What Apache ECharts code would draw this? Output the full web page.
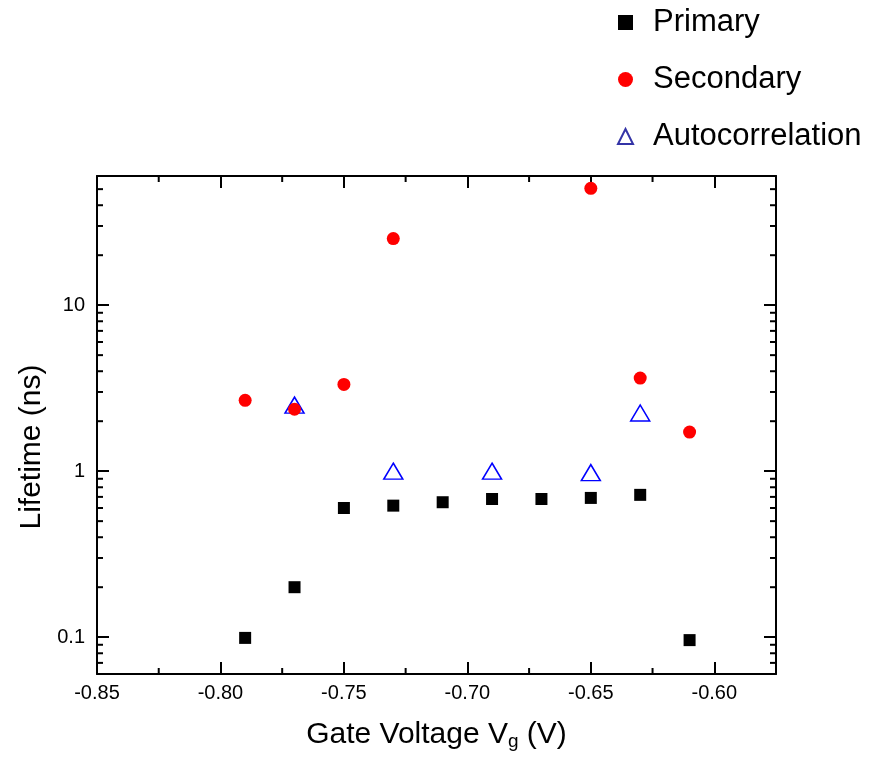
<!DOCTYPE html>
<html>
<head>
<meta charset="utf-8">
<script src="https://cdn.jsdelivr.net/npm/echarts@6/dist/echarts.min.js"></script>
<style>
  html, body { margin: 0; padding: 0; background: #fff; }
  #chart { width: 888px; height: 758px; }
</style>
</head>
<body>
<div id="chart"></div>
<script>
// Lifetimes (ns) against gate voltage (V)
const primaryVoltage = [-0.79, -0.77, -0.75, -0.73, -0.71, -0.69, -0.67, -0.65, -0.63, -0.61];
const primaryLifetime = [0.099, 0.20, 0.60, 0.62, 0.65, 0.68, 0.68, 0.69, 0.72, 0.096];

const secondaryVoltage = [-0.79, -0.77, -0.75, -0.73, -0.65, -0.63, -0.61];
const secondaryLifetime = [2.67, 2.36, 3.33, 25.2, 50.6, 3.64, 1.72];

const autoVoltage = [-0.77, -0.73, -0.69, -0.65, -0.63];
const autoLifetime = [2.5, 1.0, 1.0, 0.98, 2.24];

// Axis ranges and minor tick positions
const xRange = [-0.85, -0.575];
const yRange = [0.06, 60];
const xMinorTicks = [-0.825, -0.775, -0.725, -0.675, -0.625];
const yMinorTicks = [0.07, 0.08, 0.09,
  0.2, 0.3, 0.4, 0.5, 0.6, 0.7, 0.8, 0.9,
  2, 3, 4, 5, 6, 7, 8, 9,
  20, 30, 40, 50];

const FONT = '"Liberation Sans", Arial, sans-serif';
const pair = (xs, ys) => xs.map((x, i) => [x, ys[i]]);

const chart = echarts.init(document.getElementById('chart'), null, { renderer: 'canvas' });

const axisLineStyle = { color: '#000', width: 2 };
const majorTick = { show: true, inside: true, length: 12, lineStyle: { color: '#000', width: 2 } };
const MINOR_LEN = 6;

function minorLine(x1, y1, x2, y2) {
  return { type: 'line', shape: { x1, y1, x2, y2 }, style: { stroke: '#000', lineWidth: 2 } };
}

const option = {
  animation: false,
  backgroundColor: '#fff',
  textStyle: { fontFamily: FONT },
  grid: { left: 97, right: 112, top: 176, bottom: 84, containLabel: false, outerBoundsMode: 'none' },
  legend: {
    orient: 'vertical',
    left: 612,
    top: 2,
    itemWidth: 15,
    itemHeight: 15,
    itemGap: 26,
    textStyle: { fontFamily: FONT, fontSize: 31, color: '#000', lineHeight: 31, padding: [0, 0, 0, 15] },
    data: [
      { name: 'Primary' },
      { name: 'Secondary' },
      { name: 'Autocorrelation', itemStyle: { borderColor: '#3333a6', borderWidth: 2, color: 'rgba(0,0,0,0)' } }
    ]
  },
  xAxis: [
    {
      type: 'value',
      position: 'bottom',
      min: xRange[0],
      max: xRange[1],
      interval: 0.05,
      axisLine: { show: true, onZero: false, lineStyle: axisLineStyle },
      axisTick: majorTick,
      axisLabel: {
        color: '#000', fontSize: 20, fontFamily: FONT, margin: 9,
        showMaxLabel: false,
        formatter: v => v.toFixed(2)
      },
      splitLine: { show: false },
      name: 'Gate Voltage V{sub|g} (V)',
      nameLocation: 'middle',
      nameGap: 45,
      nameMoveOverlap: false,
      nameTextStyle: {
        color: '#000', fontSize: 30, fontFamily: FONT, lineHeight: 32,
        rich: {
          sub: { fontSize: 19, fontFamily: FONT, color: '#000', lineHeight: 20, padding: [46, 0, 0, 0], verticalAlign: 'bottom' }
        }
      }
    },
    {
      type: 'value',
      position: 'top',
      min: xRange[0],
      max: xRange[1],
      interval: 0.05,
      axisLine: { show: true, onZero: false, lineStyle: axisLineStyle },
      axisTick: majorTick,
      axisLabel: { show: false },
      splitLine: { show: false }
    }
  ],
  yAxis: [
    {
      type: 'log',
      logBase: 10,
      position: 'left',
      min: yRange[0],
      max: yRange[1],
      axisLine: { show: true, onZero: false, lineStyle: axisLineStyle },
      axisTick: majorTick,
      axisLabel: {
        color: '#000', fontSize: 20, fontFamily: FONT, margin: 12,
        showMinLabel: false, showMaxLabel: false,
        formatter: v => String(+Number(v).toPrecision(3))
      },
      splitLine: { show: false },
      name: 'Lifetime (ns)',
      nameLocation: 'middle',
      nameRotate: 90,
      nameGap: 50,
      nameTextStyle: { color: '#000', fontSize: 30, fontFamily: FONT, padding: [0, 44, 0, 0] }
    },
    {
      type: 'log',
      logBase: 10,
      position: 'right',
      min: yRange[0],
      max: yRange[1],
      axisLine: { show: true, onZero: false, lineStyle: axisLineStyle },
      axisTick: majorTick,
      axisLabel: { show: false },
      splitLine: { show: false }
    }
  ],
  series: [
    {
      name: 'Primary',
      type: 'scatter',
      symbol: 'rect',
      symbolSize: 12,
      itemStyle: { color: '#000', opacity: 1 },
      z: 3,
      data: pair(primaryVoltage, primaryLifetime)
    },
    {
      name: 'Autocorrelation',
      type: 'scatter',
      symbol: 'triangle',
      symbolSize: [19, 16],
      itemStyle: { color: 'rgba(0,0,0,0)', borderColor: '#0000ff', borderWidth: 1.5, opacity: 1 },
      z: 3,
      data: pair(autoVoltage, autoLifetime)
    },
    {
      name: 'Secondary',
      type: 'scatter',
      symbol: 'circle',
      symbolSize: 13,
      itemStyle: { color: '#ff0000', opacity: 1 },
      z: 4,
      data: pair(secondaryVoltage, secondaryLifetime)
    },
    {
      // minor ticks on the left and right frame edges (log decades)
      name: 'yMinor',
      type: 'custom',
      silent: true,
      z: 5,
      data: yMinorTicks.map(v => [xRange[0], v]),
      renderItem: (params, api) => {
        const v = api.value(1);
        const l = api.coord([xRange[0], v]);
        const r = api.coord([xRange[1], v]);
        return {
          type: 'group',
          children: [
            minorLine(l[0], l[1], l[0] + MINOR_LEN, l[1]),
            minorLine(r[0], r[1], r[0] - MINOR_LEN, r[1])
          ]
        };
      }
    },
    {
      // minor ticks on the bottom and top frame edges
      name: 'xMinor',
      type: 'custom',
      silent: true,
      z: 5,
      data: xMinorTicks.map(v => [v, yRange[0]]),
      renderItem: (params, api) => {
        const v = api.value(0);
        const b = api.coord([v, yRange[0]]);
        const t = api.coord([v, yRange[1]]);
        return {
          type: 'group',
          children: [
            minorLine(b[0], b[1], b[0], b[1] - MINOR_LEN),
            minorLine(t[0], t[1], t[0], t[1] + MINOR_LEN)
          ]
        };
      }
    }
  ]
};

chart.setOption(option);
</script>
</body>
</html>
